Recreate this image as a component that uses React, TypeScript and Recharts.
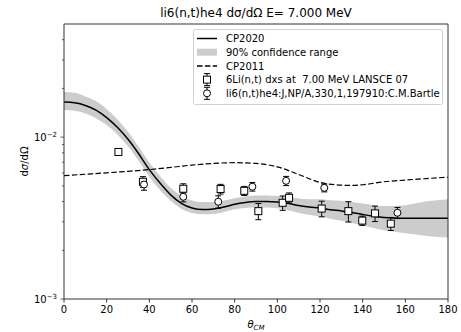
import React from 'react';
import { ComposedChart, XAxis, YAxis, Line, Area, Scatter, ErrorBar, Legend, Label } from 'recharts';

// ---- data ----
const modelAngles = [0, 5, 10, 15, 20, 25, 30, 35, 40, 45, 50, 55, 60, 65, 70, 75, 80, 85, 90, 95, 100, 105, 110, 115, 120, 125, 130, 135, 140, 145, 150, 155, 160, 165, 170, 175, 180];
const cp2020 = [0.0165, 0.0163, 0.0157, 0.0147, 0.0132, 0.0115, 0.0097, 0.0079, 0.0063, 0.0052, 0.0044, 0.0039, 0.00365, 0.00357, 0.0036, 0.0037, 0.00385, 0.00395, 0.004, 0.004, 0.00398, 0.0039, 0.00378, 0.0037, 0.00364, 0.00356, 0.0035, 0.00342, 0.00333, 0.00325, 0.00319, 0.00316, 0.00315, 0.00315, 0.00315, 0.00315, 0.00315];
const bandLow = [0.0147, 0.01455, 0.014, 0.0131, 0.01187, 0.0104, 0.00878, 0.00715, 0.0057, 0.00471, 0.00404, 0.00361, 0.0034, 0.00334, 0.00335, 0.00345, 0.00358, 0.00365, 0.00367, 0.00367, 0.00363, 0.00353, 0.0034, 0.0033, 0.00323, 0.00313, 0.00304, 0.00295, 0.00285, 0.00275, 0.00266, 0.0026, 0.00255, 0.0025, 0.00245, 0.00242, 0.0024];
const bandHigh = [0.019, 0.0188, 0.01785, 0.0167, 0.01489, 0.01288, 0.01079, 0.00873, 0.00696, 0.00575, 0.00486, 0.00434, 0.00406, 0.00397, 0.00398, 0.00406, 0.00419, 0.0043, 0.00436, 0.00436, 0.00433, 0.00428, 0.00418, 0.00414, 0.00414, 0.00408, 0.00404, 0.00397, 0.00389, 0.0038, 0.00375, 0.00375, 0.00379, 0.0039, 0.00401, 0.00407, 0.00413];

const cp2011Angles = [0, 10, 20, 30, 40, 50, 60, 70, 80, 90, 100, 110, 120, 130, 135, 140, 150, 160, 170, 180];
const cp2011 = [0.00578, 0.0059, 0.00602, 0.00615, 0.0063, 0.0065, 0.00672, 0.00688, 0.00695, 0.00688, 0.00655, 0.00588, 0.00525, 0.00505, 0.00503, 0.00508, 0.0053, 0.00543, 0.00555, 0.00565];

const lansceAngle = [25.5, 37, 55.9, 73.4, 84.5, 91.1, 102.5, 105.5, 120.8, 133.3, 139.8, 145.8, 153.2];
const lansceValue = [0.0081, 0.0053, 0.0048, 0.00478, 0.00466, 0.00349, 0.00393, 0.00422, 0.00362, 0.00349, 0.00305, 0.00338, 0.00292];
const lansceError = [0.00035, 0.0004, 0.00035, 0.00033, 0.0003, 0.0004, 0.0004, 0.0003, 0.0004, 0.0005, 0.0002, 0.00037, 0.00027];

const bartleAngle = [37.5, 55.9, 72.3, 88.3, 104.1, 122, 156.3];
const bartleValue = [0.0051, 0.00428, 0.00399, 0.00494, 0.00537, 0.00486, 0.00341];
const bartleError = [0.0004, 0.0003, 0.00035, 0.0003, 0.00035, 0.00027, 0.00027];

const xTicks = [0, 20, 40, 60, 80, 100, 120, 140, 160, 180];
const yTicks = [0.001, 0.002, 0.003, 0.004, 0.005, 0.006, 0.007, 0.008, 0.009, 0.01, 0.02, 0.03, 0.04];
const yMajorLabels: Record<string, string> = { '0.001': '−3', '0.01': '−2' };

const titleText = 'li6(n,t)he4 dσ/dΩ E= 7.000 MeV';
const legendLabels = ['CP2020', '90% confidence range', 'CP2011', '6Li(n,t) dxs at  7.00 MeV LANSCE 07', 'li6(n,t)he4:J,NP/A,330,1,197910:C.M.Bartle'];

// ---- derived tables ----
const modelData = modelAngles.map((x, i) => ({ x, cp2020: cp2020[i], band: [bandLow[i], bandHigh[i]] }));
const cp2011Data = cp2011Angles.map((x, i) => ({ x, cp2011: cp2011[i] }));
const lansceData = lansceAngle.map((x, i) => ({ x, y: lansceValue[i], err: lansceError[i] }));
const bartleData = bartleAngle.map((x, i) => ({ x, y: bartleValue[i], err: bartleError[i] }));

const FONT = "'DejaVu Sans', sans-serif";
const AX = '#333';

const YTick = (props: any) => {
  const { x, y, payload } = props;
  const v = payload.value;
  const key = String(v);
  const sup = yMajorLabels[key];
  const major = sup !== undefined;
  return (
    <g>
      <line x1={x} x2={x - (major ? 3.5 : 2)} y1={y} y2={y} stroke={AX} strokeWidth={0.8} />
      {major && (
        <text x={x - 7} y={y + 3.5} textAnchor="end" fontFamily={FONT} fontSize={10} fill="#000">
          10<tspan dy={-4} fontSize={7}>{sup}</tspan>
        </text>
      )}
    </g>
  );
};

const SquareShape = (p: any) => (
  <rect x={p.cx - 3.5} y={p.cy - 3.5} width={7} height={7} fill="#fff" stroke="#000" strokeWidth={1} />
);
const CircleShape = (p: any) => (
  <circle cx={p.cx} cy={p.cy} r={3.5} fill="#fff" stroke="#000" strokeWidth={1} />
);

const LegendBox = () => {
  const rows = [9.5, 23.2, 36.9, 50.6, 64.3];
  const hx1 = 4;
  const hx2 = 24;
  const hm = 14;
  return (
    <svg width={250} height={76} style={{ display: 'block' }}>
      <rect x={0.5} y={0.5} width={249} height={75} rx={2} fill="rgba(255,255,255,0.8)" stroke="#d0d0d0" strokeWidth={1} />
      <line x1={hx1} x2={hx2} y1={rows[0]} y2={rows[0]} stroke="#000" strokeWidth={1.5} />
      <rect x={hx1} y={rows[1] - 3.5} width={hx2 - hx1} height={7} fill="#cccccc" />
      <line x1={hx1} x2={hx2} y1={rows[2]} y2={rows[2]} stroke="#000" strokeWidth={1.5} strokeDasharray="5.5 2.4" />
      <g>
        <line x1={hm} x2={hm} y1={rows[3] - 6} y2={rows[3] + 6} stroke="#000" />
        <line x1={hm - 3} x2={hm + 3} y1={rows[3] - 6} y2={rows[3] - 6} stroke="#000" />
        <line x1={hm - 3} x2={hm + 3} y1={rows[3] + 6} y2={rows[3] + 6} stroke="#000" />
        <rect x={hm - 3.5} y={rows[3] - 3.5} width={7} height={7} fill="#fff" stroke="#000" />
      </g>
      <g>
        <line x1={hm} x2={hm} y1={rows[4] - 6} y2={rows[4] + 6} stroke="#000" />
        <line x1={hm - 3} x2={hm + 3} y1={rows[4] - 6} y2={rows[4] - 6} stroke="#000" />
        <line x1={hm - 3} x2={hm + 3} y1={rows[4] + 6} y2={rows[4] + 6} stroke="#000" />
        <circle cx={hm} cy={rows[4]} r={3.5} fill="#fff" stroke="#000" />
      </g>
      {legendLabels.map((t, i) => (
        <text key={i} x={33} y={rows[i] + 3.6} fontFamily={FONT} fontSize={10} fill="#000" style={{ whiteSpace: 'pre' }}>
          {t}
        </text>
      ))}
    </svg>
  );
};

export default function App() {
  return (
    <div style={{ position: 'absolute', left: 0, top: 0, background: '#fff' }}>
      <ComposedChart width={461} height={332} margin={{ top: 23, right: 12, bottom: 0, left: 0 }}>
        <XAxis
          dataKey="x"
          type="number"
          domain={[0, 180]}
          ticks={xTicks}
          interval={0}
          allowDataOverflow
          height={33}
          tickSize={3.5}
          tickMargin={3.5}
          stroke={AX}
          tick={{ fontSize: 10, fill: '#000', fontFamily: FONT }}
        >
          <Label
            content={() => (
              <text x={256} y={328} textAnchor="middle" fontFamily={FONT} fontSize={10} fontStyle="italic" fill="#000">
                θ<tspan fontSize={7} dy={2}>CM</tspan>
              </text>
            )}
          />
        </XAxis>
        <XAxis xAxisId="top" orientation="top" type="number" domain={[0, 180]} height={1} tick={false} tickLine={false} stroke={AX}>
          <Label
            content={() => (
              <text x={256} y={17} textAnchor="middle" fontFamily={FONT} fontSize={12} fill="#000">
                {titleText}
              </text>
            )}
          />
        </XAxis>
        <YAxis
          dataKey="y"
          type="number"
          scale="log"
          domain={[0.001, 0.05]}
          allowDataOverflow
          ticks={yTicks}
          interval={0}
          width={64}
          tickSize={0}
          tickMargin={0}
          tickLine={false}
          stroke={AX}
          tick={<YTick />}
        >
          <Label
            content={() => (
              <text x={24} y={161.5} transform="rotate(-90 24 161.5)" textAnchor="middle" dominantBaseline="central" fontFamily={FONT} fontSize={10} fill="#000">
                d<tspan fontStyle="italic">σ</tspan>/dΩ
              </text>
            )}
          />
        </YAxis>
        <YAxis yAxisId="right" orientation="right" type="number" domain={[0, 1]} width={1} tick={false} tickLine={false} stroke={AX} />
        <Area
          data={modelData}
          dataKey="band"
          type="monotone"
          stroke="none"
          fill="#cccccc"
          fillOpacity={1}
          isAnimationActive={false}
          dot={false}
          activeDot={false}
        />
        <Line data={modelData} dataKey="cp2020" type="monotone" stroke="#000" strokeWidth={1.5} dot={false} activeDot={false} isAnimationActive={false} />
        <Line data={cp2011Data} dataKey="cp2011" type="monotone" stroke="#000" strokeWidth={1.2} strokeDasharray="5.5 2.4" dot={false} activeDot={false} isAnimationActive={false} />
        <Scatter data={lansceData} dataKey="y" shape={SquareShape} isAnimationActive={false}>
          <ErrorBar dataKey="err" direction="y" width={3} stroke="#000" strokeWidth={1} />
        </Scatter>
        <Scatter data={bartleData} dataKey="y" shape={CircleShape} isAnimationActive={false}>
          <ErrorBar dataKey="err" direction="y" width={3} stroke="#000" strokeWidth={1} />
        </Scatter>
        <Legend
          layout="vertical"
          align="center"
          verticalAlign="middle"
          content={() => <LegendBox />}
          wrapperStyle={{ left: 193, top: 29, width: 250, height: 76 }}
        />
      </ComposedChart>
    </div>
  );
}
